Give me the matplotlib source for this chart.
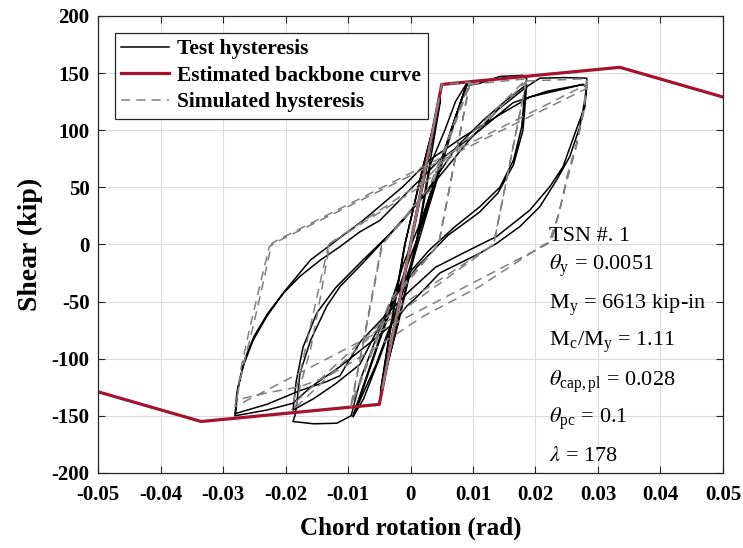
import matplotlib
matplotlib.use('Agg')
import matplotlib.pyplot as plt
import numpy as np

# estimated backbone
backbone_x = [-0.05, -0.0335, -0.005, 0.005, 0.0335, 0.05]
backbone_y = [-129, -155, -140, 140, 155, 129]

# test hysteresis, one path per amplitude group
test_005_x = [0, 0.0024, 0.0048, 0.0022, -0.0008, -0.0030, -0.0048, -0.0022, 0.0008, 0.0030, 0.0048,
              0.0020, -0.0010, -0.0032, -0.0048, -0.0020, 0.0010, 0.0032, 0.0055, 0.0072, 0.009]
test_005_y = [0, 62, 128, 72, 2, -68, -130, -72, -2, 68, 126,
              68, -2, -72, -128, -70, 0, 70, 100, 125, 141]

test_010_x = [0.009, 0.0075, 0.005, 0.0025, 0.0004, -0.002, -0.005, -0.0075, -0.0092,
              -0.0075, -0.005, -0.002, 0.001, 0.0035, 0.0062, 0.009,
              0.0072, 0.0048, 0.0022, 0.0, -0.0025, -0.0055, -0.0092,
              -0.0072, -0.0045, -0.001, 0.002, 0.0045, 0.007, 0.009]
test_010_y = [141, 115, 70, 25, -14, -55, -100, -135, -151,
              -125, -85, -40, 4, 45, 95, 140,
              112, 72, 28, -18, -60, -105, -150,
              -118, -75, -15, 25, 65, 108, 139]

test_019_x = [0.009, 0.0111, 0.0143, 0.018, 0.0186,
              0.0183, 0.0178, 0.0165, 0.0143, 0.0111, 0.007, 0.003, -0.001, -0.005, -0.008, -0.0095,
              -0.0118, -0.0155, -0.0188,
              -0.0185, -0.0182, -0.0177, -0.016, -0.0134, -0.0113, -0.0081, -0.0045, -0.0012, 0.0031,
              0.0074, 0.0117, 0.0154, 0.0186,
              0.018, 0.0165, 0.014, 0.011, 0.006, 0.001, -0.003, -0.0081, -0.012, -0.0155, -0.0188,
              -0.0183, -0.0172, -0.015, -0.012, -0.0076, -0.0035, 0.001, 0.005, 0.0095, 0.014, 0.0186]
test_019_y = [139, 141, 147, 148, 145,
              135, 103, 74, 50, 33, 15, -5, -30, -75, -118, -150,
              -156.5, -157, -155,
              -150, -140, -113, -84, -54, -37, -19, 2, 21, 50.6,
              85.6, 109, 126.5, 140,
              100, 70, 45, 28, 8, -20, -50, -105, -122, -135, -145,
              -120, -90, -60, -38, -13.6, 8, 35, 62, 92, 118, 138]

test_028_x = [0.0186, 0.0207, 0.0245, 0.0282,
              0.0282, 0.0279, 0.0271, 0.0255, 0.0234, 0.0207, 0.0175, 0.0138, 0.0111, 0.0047, 0.001,
              -0.0006, -0.00275, -0.006, -0.0113, -0.016, -0.0188, -0.023, -0.0281,
              -0.0278, -0.0268, -0.0252, -0.023, -0.0204, -0.0177, -0.0145, -0.0113, -0.0081, -0.0049,
              0.0004, 0.0047, 0.009, 0.0111, 0.0164, 0.0218, 0.0276, 0.0282,
              0.0279, 0.0271, 0.0244, 0.0223, 0.0191, 0.0138, 0.0084, 0.004, 0.0, -0.004, -0.008,
              -0.0113, -0.0134, -0.0177, -0.023, -0.028,
              -0.0276, -0.0265, -0.025, -0.0228, -0.02, -0.016, -0.0076, -0.0012, 0.0031, 0.0084,
              0.0138, 0.0191, 0.0276, 0.028]
test_028_y = [138, 145.5, 146, 145.5,
              140, 126.5, 103, 77, 56.5, 33, 15.6, 1, -7.7, -25, -46,
              -54, -69, -84, -107, -125, -139, -145, -150,
              -130, -107, -84, -63, -43, -28, -14, -2, 11, 21,
              50.6, 74, 91, 100, 124, 134, 140, 138,
              120, 109, 68, 50.6, 30, 7, -7.7, -20, -40, -62, -85,
              -115, -120, -128, -140, -148,
              -125, -100, -80, -60, -40, -13.6, 21, 50.6, 74, 94,
              112, 129, 140, 138]

# simulated hysteresis
sim_005_x = [0, 0.0045, -0.0045, 0.0045, -0.0045, 0.0045, 0.005, 0.0095]
sim_005_y = [0, 126, -126, 126, -126, 126, 140, 142]

sim_010_x = [0.0095, 0.0045, -0.003, -0.0095, -0.0045, 0.003, 0.0095,
             0.0045, -0.0032, -0.0095, -0.0046, 0.0032, 0.0095]
sim_010_y = [142, 0, -50, -142, 0, 50, 142,
             0, -48, -140, 0, 48, 140]

sim_019_x = [0.0095, 0.0186, 0.0133, -0.0044, -0.0188,
             -0.0182, -0.0177, -0.016, -0.0145, -0.0129, 0.002, 0.0186,
             0.0133, -0.002, -0.0188, -0.0131, 0.002, 0.0186]
sim_019_y = [140, 145, 0, -70, -145,
             -139, -124.5, -92, -48.6, 1, 55, 145,
             0, -55, -140, 0, 52, 143]

sim_028_x = [0.0186, 0.0282, 0.0277, 0.0266, 0.025, 0.0239, 0.0226, 0.0218, -0.0281,
             -0.0268, -0.0252, -0.0236, -0.0222, -0.0212, 0.0282,
             0.0277, 0.0265, 0.025, 0.0236, 0.0222, 0.0214, 0.011, 0.002, -0.006, -0.0134,
             -0.0177, -0.023, -0.0278,
             -0.0272, -0.0258, -0.0242, -0.0226, -0.0215, 0.028]
sim_028_y = [143, 145, 118, 89, 59, 30, 4, 0, -142,
             -107, -72, -34, 1, 4, 140,
             115, 85, 55, 25, 2, 0, -37, -63, -92, -116,
             -124.5, -130, -136,
             -110, -75, -38, -2, 2, 136]

param_lines = ['TSN #. 1',
               r'$\theta_{\mathregular{y}}$ = 0.0051',
               r'M$_{\mathregular{y}}$ = 6613 kip-in',
               r'M$_{\mathregular{c}}$/M$_{\mathregular{y}}$ = 1.11',
               r'$\theta_{\mathregular{cap,pl}}$ = 0.028',
               r'$\theta_{\mathregular{pc}}$ = 0.1',
               r'$\lambda$ = 178']
param_y = [6.5, -19, -53, -86, -120, -153, -186]

plt.rcParams['font.family'] = 'Liberation Serif'
plt.rcParams['mathtext.fontset'] = 'stix'
plt.rcParams['axes.unicode_minus'] = False

fig = plt.figure(figsize=(7.43, 5.48), dpi=100)
ax = fig.add_axes([0.132, 0.137, 0.841, 0.834])

red = '#A2142F'
test_sets = [(test_005_x, test_005_y), (test_010_x, test_010_y),
             (test_019_x, test_019_y), (test_028_x, test_028_y)]
sim_sets = [(sim_005_x, sim_005_y), (sim_010_x, sim_010_y),
            (sim_019_x, sim_019_y), (sim_028_x, sim_028_y)]

for i, (tx, ty) in enumerate(test_sets):
    ax.plot(tx, ty, color='black', lw=1.1, label='Test hysteresis' if i == 0 else None)
ax.plot(backbone_x, backbone_y, color=red, lw=2.3, label='Estimated backbone curve')
for i, (sx, sy) in enumerate(sim_sets):
    ax.plot(sx, sy, color='#808080', lw=1.1, ls=(0, (6, 4)),
            label='Simulated hysteresis' if i == 0 else None)

ax.set_xlim(-0.05, 0.05)
ax.set_ylim(-200, 200)
ax.set_xticks(np.arange(-0.05, 0.0501, 0.01))
ax.set_xticklabels(['-0.05', '-0.04', '-0.03', '-0.02', '-0.01', '0',
                    '0.01', '0.02', '0.03', '0.04', '0.05'])
ax.set_yticks(np.arange(-200, 201, 50))
ax.grid(True, color='#dcdcdc', lw=0.8)
ax.set_axisbelow(True)
ax.tick_params(direction='in', length=5, top=True, right=True, labelsize=15, color='#262626')
ax.tick_params(axis='x', pad=9)
ax.tick_params(axis='y', pad=6)
for lab in ax.get_xticklabels() + ax.get_yticklabels():
    lab.set_fontweight('bold')
for sp in ax.spines.values():
    sp.set_color('#262626')
    sp.set_linewidth(0.9)

ax.set_xlabel('Chord rotation (rad)', fontsize=18, fontweight='bold', labelpad=8)
ax.set_ylabel('Shear (kip)', fontsize=20, fontweight='bold', labelpad=6)

for txt, yy in zip(param_lines, param_y):
    ax.text(0.0222, yy, txt, fontsize=16, va='center', ha='left')

leg = ax.legend(loc='upper left', bbox_to_anchor=(0.027, 0.963), borderaxespad=0,
                prop={'weight': 'bold', 'size': 15.5}, handlelength=2.2,
                fancybox=False, framealpha=1, edgecolor='#262626',
                borderpad=0.3, labelspacing=0.3, handletextpad=0.4)
leg.get_frame().set_linewidth(0.9)

fig.savefig('out.png', dpi=100)
